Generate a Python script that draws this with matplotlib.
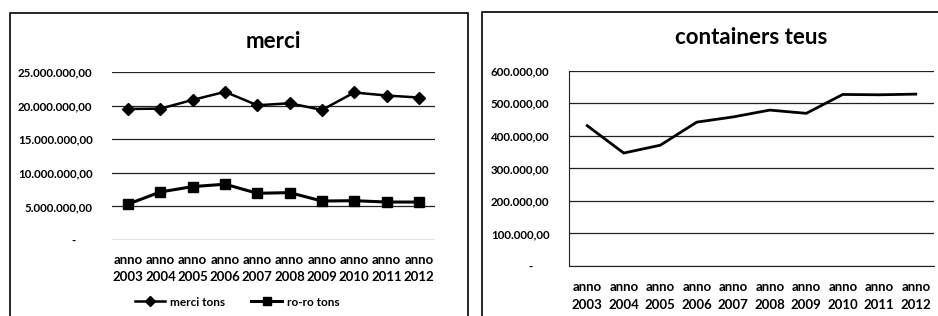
import matplotlib
matplotlib.use("Agg")
import matplotlib.pyplot as plt
from matplotlib.patches import Rectangle
from matplotlib.ticker import FuncFormatter, MultipleLocator

plt.rcParams['font.family'] = ['Lato', 'DejaVu Sans']
plt.rcParams['font.weight'] = 'bold'

years = ["anno\n2003", "anno\n2004", "anno\n2005", "anno\n2006", "anno\n2007",
         "anno\n2008", "anno\n2009", "anno\n2010", "anno\n2011", "anno\n2012"]
merci_tons = [19500000, 19550000, 20850000, 22050000, 20050000,
              20350000, 19350000, 21950000, 21500000, 21200000]
roro_tons = [5350000, 7150000, 7950000, 8300000, 6950000,
             7050000, 5800000, 5850000, 5650000, 5650000]
containers_teus = [431000, 347000, 371000, 442000, 458000,
                   479000, 469000, 527000, 526000, 528000]

W, H = 938, 316
fig = plt.figure(figsize=(W / 100, H / 100), dpi=100)
fig.patch.set_facecolor('white')

def fmt(v, pos):
    if abs(v) < 1e-9:
        return "-      "
    s = f"{v:,.2f}"
    return s.replace(",", "X").replace(".", ",").replace("X", ".")

# panel borders
fig.add_artist(Rectangle((10 / W, -0.1), (468 - 10) / W, 1.1 - 13 / H,
                         transform=fig.transFigure, fill=False, lw=1.2, ec='black'))
fig.add_artist(Rectangle((482 / W, -0.1), 1.1, 1.1 - 12 / H,
                         transform=fig.transFigure, fill=False, lw=1.2, ec='black'))

# Left chart
ax1 = fig.add_axes([112 / W, 1 - 240 / H, 323 / W, 168 / H])
x = list(range(len(years)))
ax1.plot(x, merci_tons, color='black', lw=1.8, marker='D', ms=6, label='merci tons')
ax1.plot(x, roro_tons, color='black', lw=2.2, marker='s', ms=7, label='ro-ro tons')
ax1.set_ylim(0, 25000000)
ax1.set_xlim(-0.5, len(years) - 0.5)
ax1.yaxis.set_major_locator(MultipleLocator(5000000))
ax1.yaxis.set_major_formatter(FuncFormatter(fmt))
ax1.set_xticks(x)
ax1.set_xticklabels(years, linespacing=1.55)
ax1.grid(axis='y', color='#222222', lw=0.9)
ax1.set_axisbelow(True)
for s in ax1.spines.values():
    s.set_visible(False)
ax1.tick_params(length=0)
ax1.tick_params(axis='y', pad=14, labelsize=8.3)
ax1.tick_params(axis='x', pad=10, labelsize=9.5)
ax1.set_title("merci", fontsize=16, fontweight='bold', pad=17)
fig.legend(*ax1.get_legend_handles_labels(), loc='center', ncol=2,
           bbox_to_anchor=(237 / W, 1 - 302 / H), frameon=False, fontsize=8.5,
           handlelength=2.6, columnspacing=2.2, handletextpad=0.4, markerscale=0.85)

# Right chart
ax2 = fig.add_axes([569 / W, 1 - 266 / H, 365 / W, 195.3 / H])
ax2.plot(x, containers_teus, color='black', lw=2.0)
ax2.set_ylim(0, 600000)
ax2.set_xlim(-0.5, len(years) - 0.5)
ax2.yaxis.set_major_locator(MultipleLocator(100000))
ax2.yaxis.set_major_formatter(FuncFormatter(fmt))
ax2.set_xticks(x)
ax2.set_xticklabels(years, linespacing=1.55)
ax2.grid(axis='y', color='#222222', lw=0.9)
ax2.set_axisbelow(True)
ax2.spines['top'].set_visible(False)
ax2.spines['right'].set_visible(False)
ax2.spines['left'].set_color('#222222')
ax2.spines['bottom'].set_color('#222222')
ax2.tick_params(length=0)
ax2.tick_params(axis='y', pad=14, labelsize=8.3)
ax2.tick_params(axis='x', pad=11, labelsize=9.5)
ax2.set_title("containers teus", fontsize=16, fontweight='bold', pad=19)

fig.savefig("out.png", dpi=100)
